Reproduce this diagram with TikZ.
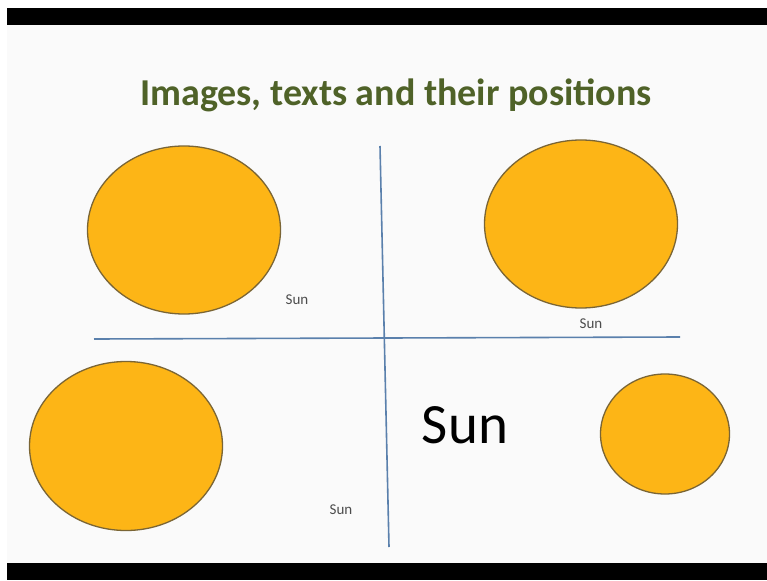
\documentclass[tikz,border=0pt]{standalone}
\usepackage{fontspec}
\setmainfont{Carlito}
\definecolor{titlegreen}{HTML}{4F6228}
\definecolor{sunfill}{HTML}{FDB516}
\definecolor{sunline}{HTML}{7A6535}
\definecolor{axisblue}{HTML}{5A80AC}
\begin{document}
\begin{tikzpicture}[x=1pt,y=-1pt,
  sun/.style={draw=sunline,line width=1.3pt,fill=sunfill},
  axis/.style={draw=axisblue,line width=1.6pt},
  smalllabel/.style={font=\fontsize{15}{18}\selectfont,text=black!70,inner sep=0pt},
  biglabel/.style={font=\fontsize{57}{66}\selectfont,inner sep=0pt}]
\useasboundingbox (0,0) rectangle (767,580);
\fill[white] (0,0) rectangle (767,580);
\fill[black!2] (7,25) rectangle (767,563);
\fill[black] (7,8) rectangle (767,25);
\fill[black] (7,563) rectangle (767,580);
\node[font=\bfseries\fontsize{38}{45}\selectfont,text=titlegreen,inner sep=0pt] (title) at (396,95) {Images, texts and their positions};
% axes
\coordinate (vt) at (380,146);
\coordinate (vb) at (389,547);
\coordinate (hl) at (94,339);
\coordinate (hr) at (680,337);
\draw[axis] (vt) -- (vb);
\draw[axis] (hl) -- (hr);
% suns
\draw[sun] (184,230) ellipse [x radius=96.5,y radius=84];
\draw[sun] (581,224) ellipse [x radius=96.5,y radius=84];
\draw[sun] (126,446) ellipse [x radius=96.5,y radius=84.5];
\draw[sun] (665,434) ellipse [x radius=64.5,y radius=60];
% labels
\node[smalllabel] (s1) at (297,300) {Sun};
\node[smalllabel] (s2) at (591,324) {Sun};
\node[smalllabel] (s3) at (341,510) {Sun};
\node[biglabel] (s4) at (465,425) {Sun};
\end{tikzpicture}
\end{document}
